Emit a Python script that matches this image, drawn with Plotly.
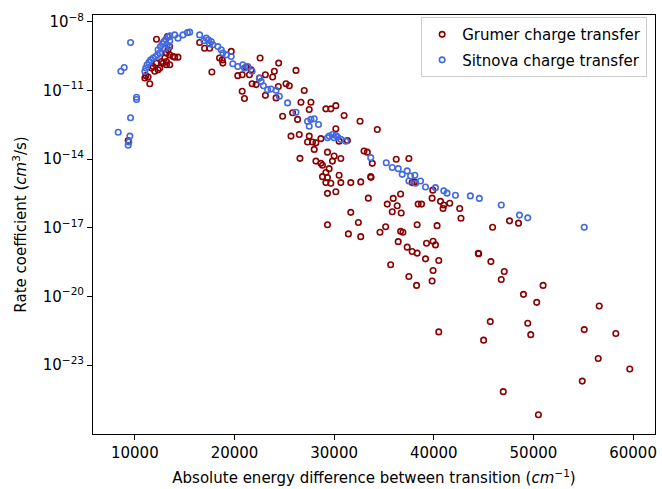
import numpy as np
import plotly.graph_objects as go

# Grumer charge-transfer rates: transition energy (cm^-1) and log10 of rate (cm^3/s)
grumer_energy = [
    9330, 12170, 13270, 13500, 13330, 13170, 13500, 13830, 14330, 14000,
    13000, 13170, 12170, 11830, 12330, 12000, 12500, 13170, 13500, 11000,
    11330, 11500, 12670, 12830, 11100, 11670, 16500, 17000, 17500, 19670,
    18500, 22570, 17730, 18830, 18770, 20330, 20770, 21500, 21670, 21170,
    21770, 22170, 22500, 23100, 23830, 24000, 24430, 26170, 20770, 21000,
    23100, 24170, 24400, 25170, 25500, 27000, 26670, 27670, 29170, 29670,
    30170, 31000, 32600, 34330, 25830, 26330, 27500, 24830, 25670, 26500,
    27500, 27830, 28170, 28670, 27330, 28000, 30170, 30500, 31330, 29330,
    30000, 30670, 29830, 33000, 33330, 33830, 28170, 28670, 28830, 29500,
    29170, 28830, 29330, 29170, 30500, 33670, 33700, 26570, 29330, 29330,
    36230, 37500, 29670, 30670, 31670, 32670, 30170, 33430, 35330, 35930,
    36670, 36330, 35830, 36730, 38430, 38770, 39900, 39830, 31670, 32430,
    31430, 32670, 34600, 35170, 36670, 36900, 38330, 40330, 36430, 37330,
    37830, 38330, 39270, 39930, 40170, 39170, 39930, 39830, 37500, 38270,
    35670, 37830, 38070, 40670, 41000, 40930, 41600, 42600, 42730, 45900,
    47600, 48500, 44500, 44470, 45730, 47070, 46770, 40500, 50970, 49000,
    50330, 56600, 45670, 49430, 49730, 55100, 58270, 45000, 56500, 59670,
    54900, 46970, 50500, 40500,
]
grumer_log_rate = [
    -13.19, -8.77, -8.65, -9.09, -9.23, -9.37, -9.45, -9.52, -9.55, -9.55,
    -9.59, -9.74, -9.81, -9.96, -10.10, -10.17, -10.03, -9.88, -9.88, -10.46,
    -10.42, -10.71, -9.74, -9.81, -10.36, -10.03, -8.91, -9.16, -9.16, -9.30,
    -9.59, -9.59, -10.20, -9.81, -9.67, -10.36, -10.32, -10.32, -10.10, -9.98,
    -10.71, -10.75, -10.46, -10.32, -10.42, -10.17, -9.81, -10.13, -11.04, -11.36,
    -11.22, -11.33, -10.83, -10.71, -10.80, -11.01, -11.52, -11.52, -11.81, -11.81,
    -11.67, -12.10, -12.35, -12.71, -11.98, -12.27, -11.84, -12.13, -13.00, -12.93,
    -13.00, -13.26, -13.29, -13.11, -13.26, -13.58, -12.68, -13.22, -13.19, -13.70,
    -13.87, -13.98, -14.09, -13.65, -13.70, -14.19, -14.09, -14.19, -14.27, -14.42,
    -14.59, -14.77, -14.81, -15.03, -14.71, -14.77, -14.80, -13.97, -15.50, -16.87,
    -14.01, -13.98, -15.06, -15.03, -15.03, -15.00, -15.43, -15.71, -15.97, -15.72,
    -15.53, -16.04, -16.30, -16.36, -15.97, -15.97, -15.36, -15.71, -16.33, -16.77,
    -17.27, -17.39, -17.20, -16.96, -17.16, -17.20, -16.87, -16.91, -17.61, -17.85,
    -18.04, -18.11, -17.68, -17.59, -17.75, -18.36, -18.87, -19.33, -19.13, -19.52,
    -18.62, -15.03, -15.00, -15.85, -16.01, -16.16, -15.93, -16.16, -16.59, -16.98,
    -16.70, -16.80, -18.14, -18.12, -18.48, -18.91, -19.26, -18.43, -19.52, -19.91,
    -20.26, -20.42, -21.10, -21.17, -21.67, -21.45, -21.62, -21.91, -22.71, -23.17,
    -23.70, -24.16, -25.17, -21.55,
]

# Sitnova charge-transfer rates
sitnova_energy = [
    9570, 8930, 8600, 10170, 10170, 9570, 8330, 9500, 9400, 9330,
    11000, 11100, 11230, 11430, 11600, 11830, 12070, 12270, 12500, 12330,
    12570, 12770, 12900, 13100, 13330, 13500, 13230, 13000, 13430, 13500,
    14000, 14330, 14830, 15270, 15500, 16500, 16930, 17170, 17400, 17670,
    17500, 17830, 18330, 18670, 18830, 19170, 19670, 19830, 20330, 20830,
    21000, 21330, 21770, 22500, 22670, 22900, 23330, 23670, 24170, 24500,
    25330, 26170, 27330, 27670, 28000, 27500, 28430, 29500, 29830, 30170,
    30330, 30670, 31170, 29330, 30000, 33670, 35230, 35830, 36430, 36830,
    37330, 37670, 38100, 37500, 38170, 38670, 39170, 40170, 41000, 41330,
    42170, 43670, 44570, 46770, 48600, 49430, 55100,
]
sitnova_log_rate = [
    -8.91, -10.00, -10.17, -11.30, -11.40, -12.20, -12.83, -13.00, -13.26, -13.40,
    -10.17, -10.03, -9.88, -9.77, -9.67, -9.59, -9.52, -9.45, -9.37, -9.23,
    -9.09, -8.97, -8.87, -8.77, -8.68, -8.83, -9.01, -9.16, -9.09, -8.62,
    -8.58, -8.72, -8.58, -8.48, -8.46, -8.58, -8.83, -8.72, -8.80, -8.87,
    -8.97, -9.01, -9.09, -9.23, -9.37, -9.45, -9.52, -9.84, -9.96, -9.88,
    -10.03, -9.96, -10.17, -10.46, -10.61, -10.80, -10.97, -10.94, -11.00, -11.26,
    -11.55, -11.96, -12.35, -12.27, -12.24, -12.57, -12.49, -13.00, -12.93, -12.97,
    -13.03, -13.14, -13.22, -13.07, -13.07, -13.94, -14.16, -14.37, -14.42, -14.67,
    -14.52, -14.74, -14.71, -14.96, -15.06, -14.96, -15.22, -15.25, -15.39, -15.49,
    -15.58, -15.61, -15.72, -16.01, -16.45, -16.57, -16.98,
]

x_ticks = [10000, 20000, 30000, 40000, 50000, 60000]
y_tick_exponents = [-8, -11, -14, -17, -20, -23]

FONT = "DejaVu Sans"
FS = 15
BLACK = "#000000"

fig = go.Figure()
fig.add_trace(go.Scatter(
    x=grumer_energy, y=10.0 ** np.array(grumer_log_rate),
    mode="markers", name="Grumer charge transfer", legendgroup="g",
    marker=dict(symbol="circle-open", size=5.5, color="#8b0000",
                line=dict(width=1.6, color="#8b0000")),
))
fig.add_trace(go.Scatter(
    x=sitnova_energy, y=10.0 ** np.array(sitnova_log_rate),
    mode="markers", name="Sitnova charge transfer", legendgroup="s",
    marker=dict(symbol="circle-open", size=5.5, color="#4169e1",
                line=dict(width=1.6, color="#4169e1")),
))

axis_common = dict(
    showline=True, linecolor=BLACK, linewidth=1, mirror=True,
    ticks="outside", ticklen=5, tickwidth=1, tickcolor=BLACK,
    showgrid=False, zeroline=False,
    tickfont=dict(family=FONT, size=FS, color=BLACK),
)

fig.update_xaxes(
    **axis_common,
    range=[5800, 62200],
    tickvals=x_ticks, ticktext=[str(v) for v in x_ticks],
    title=dict(text="Absolute energy difference between transition (<i>cm</i><sup>−1</sup>)",
               font=dict(family=FONT, size=FS, color=BLACK), standoff=11),
)
fig.update_yaxes(
    **axis_common,
    type="log", range=[-26.01, -7.71],
    tickvals=[10.0 ** e for e in y_tick_exponents],
    ticktext=[f"10<sup>−{-e}</sup>" for e in y_tick_exponents],
    title=dict(text="Rate coefficient (<i>cm</i><sup>3</sup>/s)",
               font=dict(family=FONT, size=FS, color=BLACK), standoff=12),
)

fig.update_layout(
    width=662, height=489,
    margin=dict(l=93, r=5, t=15, b=53),
    paper_bgcolor="white", plot_bgcolor="white",
    font=dict(family=FONT, size=FS, color=BLACK),
    legend=dict(
        x=0.986, y=0.995, xanchor="right", yanchor="top",
        bgcolor="rgba(255,255,255,0.8)", bordercolor="#cccccc", borderwidth=1,
        font=dict(family=FONT, size=FS, color=BLACK),
        itemsizing="trace", tracegroupgap=3,
    ),
    showlegend=True,
)

fig.write_html("out.html")
